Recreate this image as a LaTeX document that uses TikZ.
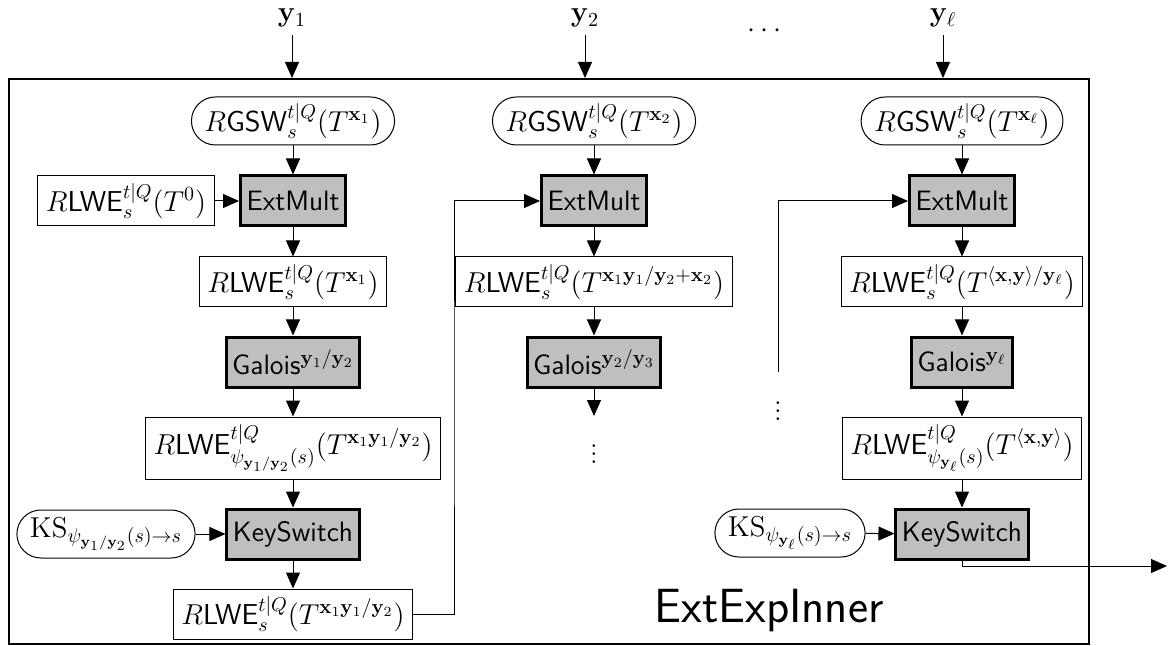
\documentclass[tikz,border=0pt]{standalone}
\usepackage{amsmath,amssymb}
\usetikzlibrary{arrows.meta,calc}

\newcommand{\rlwe}{R\mathsf{LWE}}
\newcommand{\rgsw}{R\mathsf{GSW}}
\newcommand{\bx}{\mathbf{x}}
\newcommand{\by}{\mathbf{y}}

\begin{document}
\begin{tikzpicture}[x=0.5pt,y=-0.5pt,
  every node/.style={font=\fontsize{14}{16}\selectfont},
  opbox/.style={draw, line width=1.5pt, fill=gray!50, minimum height=25pt,
    inner xsep=3pt, font=\sffamily\fontsize{14}{16}\selectfont},
  valbox/.style={draw, line width=0.5pt, minimum height=25pt, inner xsep=4pt, inner ysep=2pt},
  keybox/.style={draw, line width=0.5pt, rounded corners=12pt, minimum height=24pt, inner xsep=6.5pt, inner ysep=2pt},
  flow/.style={-{Triangle[length=8pt,width=7pt]}, line width=0.5pt},
]
\useasboundingbox (0,0) rectangle (1176,646);

% enclosing frame
\node[draw, line width=1.2pt, anchor=north west, minimum width=540pt,
      minimum height=282.5pt, inner sep=0pt] (frame) at (8,78) {};

% inputs on top
\node[anchor=base] (y1) at (292,22) {$\by_1$};
\node[anchor=base] (y2) at (585,22) {$\by_2$};
\node[anchor=base] (yl) at (943,22) {$\by_\ell$};
\node (tdots) at (767,31) {$\cdots$};
\draw[flow] (y1.south) -- (y1.south |- frame.north);
\draw[flow] (y2.south) -- (y2.south |- frame.north);
\draw[flow] (yl.south) -- (yl.south |- frame.north);

% first column
\node[keybox] (g1) at (293,121) {$\rgsw^{t|Q}_s(T^{\bx_1})$};
\node[opbox] (m1) at (293,201) {ExtMult};
\node[valbox] (z1) at (126,201) {$\rlwe^{t|Q}_s(T^{0})$};
\node[valbox] (r1) at (293,282) {$\rlwe^{t|Q}_s(T^{\bx_1})$};
\node[opbox] (a1) at (293,362) {Galois$^{\by_1/\by_2}$};
\node[valbox, minimum height=31pt] (p1) at (293,448) {$\rlwe^{t|Q}_{\psi_{\by_1/\by_2}(s)}(T^{\bx_1\by_1/\by_2})$};
\node[opbox] (k1) at (293,534) {KeySwitch};
\node[keybox] (s1) at (106,534) {$\mathrm{KS}_{\psi_{\by_1/\by_2}(s)\to s}$};
\node[valbox] (o1) at (293,614) {$\rlwe^{t|Q}_s(T^{\bx_1\by_1/\by_2})$};

\draw[flow] (g1) -- (m1);
\draw[flow] (z1) -- (m1);
\draw[flow] (m1) -- (r1);
\draw[flow] (r1) -- (a1);
\draw[flow] (a1) -- (p1);
\draw[flow] (p1) -- (k1);
\draw[flow] (s1) -- (k1);
\draw[flow] (k1) -- (o1);

% second column
\node[keybox] (g2) at (594,121) {$\rgsw^{t|Q}_s(T^{\bx_2})$};
\node[opbox] (m2) at (594,201) {ExtMult};
\node[valbox] (r2) at (594,282) {$\rlwe^{t|Q}_s(T^{\bx_1\by_1/\by_2+\bx_2})$};
\node[opbox] (a2) at (594,362) {Galois$^{\by_2/\by_3}$};
\coordinate (e2) at (594,416);
\node (d2) at (594,448) {$\vdots$};

\coordinate (j1) at (454,400);
\draw[flow] (o1.east) -| (j1) |- (m2.west);
\draw[flow] (g2) -- (m2);
\draw[flow] (m2) -- (r2);
\draw[flow] (r2) -- (a2);
\draw[flow] (a2) -- (e2);

% last column
\node[keybox] (g3) at (962,121) {$\rgsw^{t|Q}_s(T^{\bx_\ell})$};
\node[opbox] (m3) at (962,201) {ExtMult};
\node[valbox] (r3) at (962,282) {$\rlwe^{t|Q}_s(T^{\langle\bx,\by\rangle/\by_\ell})$};
\node[opbox] (a3) at (962,362) {Galois$^{\by_\ell}$};
\node[valbox, minimum height=31pt] (p3) at (962,448) {$\rlwe^{t|Q}_{\psi_{\by_\ell}(s)}(T^{\langle\bx,\by\rangle})$};
\node[opbox] (k3) at (962,534) {KeySwitch};
\node[keybox] (s3) at (790,533) {$\mathrm{KS}_{\psi_{\by_\ell}(s)\to s}$};
\coordinate (c3) at (778,372);
\node (d3) at (778,405) {$\vdots$};
\coordinate (out) at (1167,566);

\draw[flow] (c3) |- (m3.west);
\draw[flow] (g3) -- (m3);
\draw[flow] (m3) -- (r3);
\draw[flow] (r3) -- (a3);
\draw[flow] (a3) -- (p3);
\draw[flow] (p3) -- (k3);
\draw[flow] (s3) -- (k3);
\draw[flow] (k3.south) |- (out);

% block name
\node[anchor=base, font=\sffamily\fontsize{24}{28}\selectfont] (title) at (769,622) {ExtExpInner};
\end{tikzpicture}
\end{document}
